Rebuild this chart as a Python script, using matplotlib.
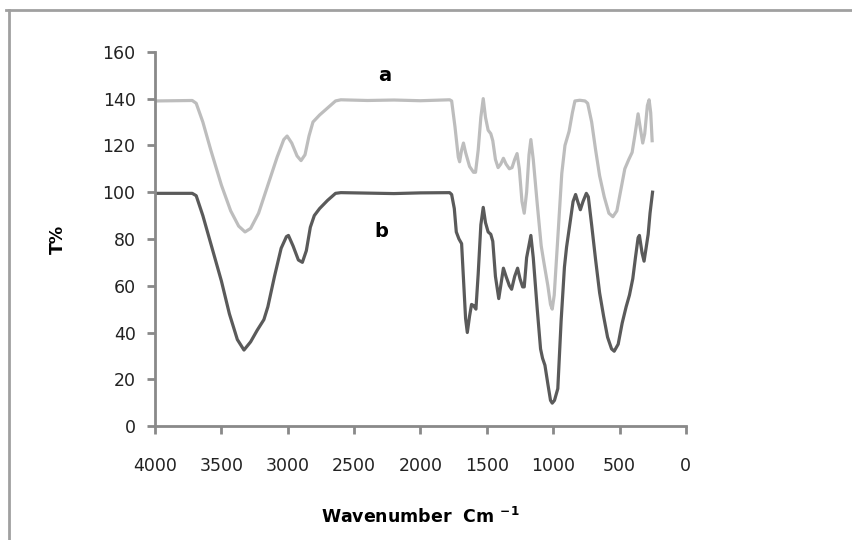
import numpy as np
import matplotlib
matplotlib.use("Agg")
import matplotlib.pyplot as plt
from matplotlib.lines import Line2D

# spectrum a (upper, light grey)
wn_a = [4000, 3720, 3690, 3640, 3580, 3500, 3430, 3370, 3322, 3280, 3220, 3150,
        3080, 3030, 3005, 2970, 2930, 2900, 2870, 2840, 2810, 2760, 2700, 2640,
        2600, 2400, 2200, 2000, 1780, 1765, 1740, 1715, 1705, 1690, 1676, 1660,
        1630, 1600, 1585, 1565, 1545, 1527, 1510, 1490, 1470, 1455, 1435, 1415,
        1395, 1375, 1355, 1330, 1310, 1290, 1272, 1255, 1235, 1218, 1200, 1182,
        1168, 1150, 1120, 1090, 1070, 1040, 1020, 1007, 992, 960, 935, 911, 880,
        855, 836, 800, 760, 740, 710, 680, 650, 615, 580, 550, 520, 490, 460, 430,
        405, 385, 360, 345, 325, 310, 290, 277, 265, 254]
t_a = [139, 139.2, 138, 130, 118, 103, 92, 85.5, 83, 84.5, 91, 103,
       115, 122.5, 124, 121, 115.5, 113.5, 116, 124, 130, 133, 136, 139,
       139.5, 139.2, 139.4, 139.1, 139.5, 139, 128, 115, 113, 118, 121, 117,
       111, 108.5, 108.5, 118, 132, 140, 132, 126.5, 125, 122, 114, 110.5,
       112, 114.5, 112, 110, 110.5, 114, 116.5, 110, 96, 91, 100, 116,
       122.5, 114, 95, 77, 70, 60, 52, 50, 56, 85, 108, 120, 126,
       134, 139, 139.3, 139, 138, 130, 118, 107, 98, 91, 89.5, 92, 101, 110, 114,
       117, 124, 133.5, 128, 121, 125, 137, 139.5, 134, 122]

# spectrum b (lower, dark grey)
wn_b = [4000, 3720, 3690, 3640, 3580, 3500, 3440, 3380, 3330, 3280, 3230, 3180,
        3150, 3100, 3050, 3010, 2995, 2960, 2920, 2890, 2860, 2830, 2800, 2760,
        2700, 2640, 2600, 2400, 2200, 2000, 1780, 1765, 1745, 1730, 1710, 1690,
        1675, 1660, 1647, 1630, 1615, 1600, 1582, 1565, 1545, 1527, 1510, 1490,
        1470, 1455, 1435, 1410, 1395, 1375, 1355, 1330, 1313, 1290, 1268, 1250,
        1230, 1218, 1200, 1168, 1150, 1120, 1095, 1080, 1062, 1040, 1020, 1007,
        990, 965, 940, 915, 899, 870, 850, 831, 815, 795, 775, 750, 735, 710, 680,
        650, 620, 590, 560, 540, 510, 480, 450, 425, 400, 380, 360, 350, 330, 315,
        300, 284, 270, 251]
t_b = [99.5, 99.5, 98.5, 90, 78, 62, 48, 37, 32.5, 36, 41, 45.5,
       51, 64, 76, 81, 81.5, 77, 71, 70, 75, 85, 90, 93,
       96.5, 99.5, 99.8, 99.6, 99.4, 99.7, 99.8, 99, 93, 83, 80, 78,
       62, 46, 40, 47, 52, 51.5, 50, 65, 86, 93.5, 87, 83,
       82, 79, 64, 54.5, 60, 67.5, 64, 60, 58.5, 64, 67.5, 63,
       59.5, 59.5, 72, 81.5, 72, 50, 33, 29, 26, 18, 11, 9.8,
       11, 16, 45, 68, 76.5, 88, 96, 99, 96, 92.5, 96, 99.5, 98, 86, 71,
       57, 47, 38, 33, 32, 35, 44, 51, 56, 63, 72, 80.5, 81.5, 74, 70.5,
       76, 82, 91, 100]

x_ticks = [4000, 3500, 3000, 2500, 2000, 1500, 1000, 500, 0]
y_ticks = [0, 20, 40, 60, 80, 100, 120, 140, 160]

axis_grey = "#898989"

fig = plt.figure(figsize=(8.52, 5.4), dpi=100)
ax = fig.add_axes([0.182, 0.211, 0.623, 0.693])

ax.plot(wn_a, t_a, color="#bdbdbd", lw=2.3, solid_joinstyle="round")
ax.plot(wn_b, t_b, color="#5a5a5a", lw=2.3, solid_joinstyle="round")

ax.set_xlim(4000, 0)
ax.set_ylim(0, 160)
ax.set_xticks(x_ticks)
ax.set_yticks(y_ticks)

for side in ["top", "right"]:
    ax.spines[side].set_visible(False)
for side in ["left", "bottom"]:
    ax.spines[side].set_color(axis_grey)
    ax.spines[side].set_linewidth(2)
ax.tick_params(direction="out", length=6, width=2, color=axis_grey,
               labelsize=12.5, labelcolor="#222222")
ax.tick_params(axis="x", pad=16)
ax.tick_params(axis="y", pad=8)

ax.text(2267, 150, "a", fontsize=14, fontweight="bold", ha="center", va="center")
ax.text(2292, 83, "b", fontsize=14, fontweight="bold", ha="center", va="center")

ax.set_xlabel("Wavenumber  Cm $^{\\mathbf{-1}}$", fontsize=12.5, fontweight="bold",
              labelpad=23)
ax.set_ylabel("T%", fontsize=12.5, fontweight="bold", labelpad=26)

# chart area border (top and left edges visible)
fig.add_artist(Line2D([6 / 852, 1], [1 - 10 / 540, 1 - 10 / 540],
                      color="#a0a0a0", lw=2, transform=fig.transFigure))
fig.add_artist(Line2D([9 / 852, 9 / 852], [0, 1 - 10 / 540],
                      color="#a0a0a0", lw=2, transform=fig.transFigure))

fig.savefig("out.png", dpi=100)
